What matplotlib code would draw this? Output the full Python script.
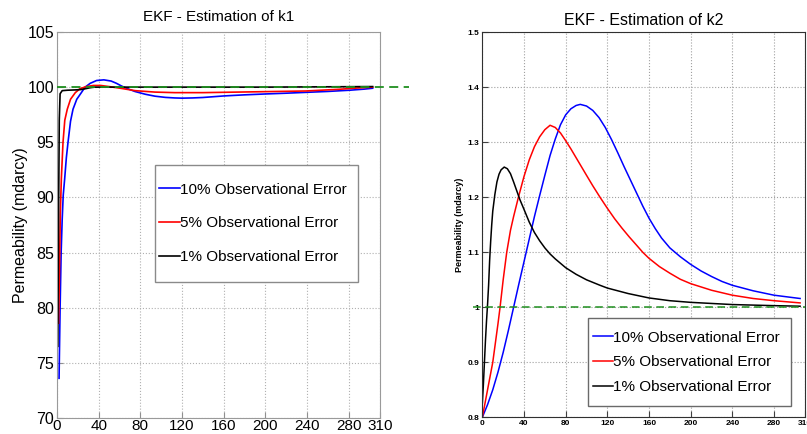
import matplotlib
matplotlib.use('Agg')
import matplotlib.pyplot as plt
from matplotlib.patches import Rectangle

plt.rcParams['font.family'] = ['Liberation Sans', 'DejaVu Sans']

# k1 estimates (left panel)
k1_blue_x = [2, 3, 4, 5, 6, 7.4, 9, 10.6, 13, 15.4, 19, 23.4, 27, 32, 38, 45, 52, 57, 62, 68, 75,
             85, 94, 104, 113, 120, 130, 140, 160, 180, 200, 220, 240, 260, 281, 295, 303]
k1_blue_y = [73.6, 80, 85, 88, 90.2, 91.7, 93.6, 95, 96.9, 98, 98.9, 99.5, 100.0, 100.35, 100.6,
             100.66, 100.55, 100.35, 100.1, 99.85, 99.6, 99.35, 99.18, 99.07, 99.02, 99.0, 99.02,
             99.06, 99.2, 99.3, 99.38, 99.45, 99.53, 99.61, 99.72, 99.82, 99.9]
k1_red_x = [1.6, 2.5, 3.2, 4.2, 5.8, 7.5, 9.9, 13, 17.6, 22, 28, 35, 42, 50, 62, 75, 94, 113,
            140, 180, 239, 270, 290, 303]
k1_red_y = [78.6, 84, 88.5, 91.7, 95, 97, 98, 98.9, 99.5, 99.85, 100.05, 100.15, 100.15, 100.05,
            99.88, 99.68, 99.55, 99.5, 99.5, 99.56, 99.65, 99.8, 99.93, 100.0]
k1_black_x = [0.8, 1.5, 2.2, 3, 5, 10, 18, 23, 28, 32, 36, 50, 100, 200, 303]
k1_black_y = [76.5, 88, 97, 99.4, 99.68, 99.72, 99.75, 99.78, 99.87, 99.95, 100.0, 100.0, 100.0,
              100.0, 100.05]
k1_true = 100

# k2 estimates (right panel)
k2_blue_x = [0, 5, 10, 15, 20, 25, 30, 35, 40, 45, 50, 55, 60, 65, 70, 75, 80, 85, 90, 94, 100,
             106, 112, 118, 124, 130, 136, 142, 148, 154, 160, 166, 172, 180, 190, 200, 210, 220,
             230, 240, 260, 280, 305]
k2_blue_y = [0.8, 0.823, 0.85, 0.882, 0.918, 0.958, 1.0, 1.042, 1.083, 1.124, 1.165, 1.203, 1.24,
             1.276, 1.306, 1.332, 1.35, 1.361, 1.367, 1.369, 1.366, 1.358, 1.345, 1.327, 1.305,
             1.281, 1.256, 1.232, 1.208, 1.184, 1.162, 1.143, 1.126, 1.108, 1.092, 1.078, 1.066,
             1.056, 1.047, 1.04, 1.03, 1.022, 1.016]
k2_red_x = [0, 5, 10, 15, 17, 20, 23.4, 27, 30, 34.6, 40, 45, 50, 55, 60, 65, 70, 75, 80, 85, 90,
            95, 100, 106, 113, 120, 127, 134, 141, 148, 154, 160, 170, 180, 190, 200, 220, 240, 260,
            280, 305]
k2_red_y = [0.8, 0.85, 0.9, 0.97, 1.0, 1.05, 1.1, 1.14, 1.165, 1.2, 1.238, 1.268, 1.292, 1.31,
            1.323, 1.331, 1.327, 1.317, 1.303, 1.288, 1.272, 1.256, 1.24, 1.221, 1.2, 1.18, 1.161,
            1.144, 1.128, 1.113, 1.1, 1.089, 1.074, 1.062, 1.051, 1.043, 1.031, 1.022, 1.016, 1.012,
            1.008]
k2_black_x = [0, 1, 2, 3, 4, 5, 6, 7, 8, 9, 10, 12, 14, 16, 18, 21, 24, 27, 30, 33, 36, 40, 45, 50,
              55, 60, 65, 70, 75, 80, 90, 100, 113, 120, 140, 160, 180, 200, 240, 280, 305]
k2_black_y = [0.825, 0.86, 0.9, 0.94, 0.975, 1.005, 1.04, 1.085, 1.12, 1.15, 1.175, 1.205, 1.228,
              1.242, 1.25, 1.255, 1.252, 1.243, 1.228, 1.212, 1.196, 1.178, 1.155, 1.136, 1.121,
              1.108, 1.097, 1.088, 1.08, 1.072, 1.06, 1.05, 1.04, 1.035, 1.025, 1.017, 1.012, 1.009,
              1.005, 1.003, 1.002]
k2_true = 1

labels = ['10% Observational Error', '5% Observational Error', '1% Observational Error']
xticks = [0, 40, 80, 120, 160, 200, 240, 280, 310]

fig = plt.figure(figsize=(8.07, 4.34), dpi=100)
ax1 = fig.add_axes([0.0706, 0.0369, 0.4002, 0.8894])
ax2 = fig.add_axes([0.5977, 0.0385, 0.4002, 0.887])

# ---- left panel ----
ax1.plot(k1_blue_x, k1_blue_y, color='#0000ff', lw=1.2, label=labels[0])
ax1.plot(k1_red_x, k1_red_y, color='#ff0000', lw=1.2, label=labels[1])
ax1.plot(k1_black_x, k1_black_y, color='black', lw=1.2, label=labels[2])
ax1.plot([0, 338], [k1_true, k1_true], color='#1f8f1f', lw=1.3, ls=(0, (5, 3)), clip_on=False, zorder=6)
ax1.set_xlim(0, 310)
ax1.set_ylim(70, 105)
ax1.set_xticks(xticks)
ax1.set_yticks(range(70, 106, 5))
ax1.grid(True, ls=':', color='#b0b0b0', lw=0.8)
ax1.tick_params(direction='in', length=4, labelsize=11.5, pad=2, color='#909090')
ax1.tick_params(axis='x', labelsize=11, pad=1)
for s in ax1.spines.values():
    s.set_color('#9a9a9a')
ax1.set_ylabel('Permeability (mdarcy)', fontsize=11.5, labelpad=0)
ax1.set_title('EKF - Estimation of k1', fontsize=11, pad=8)
ax1.add_patch(Rectangle((0.303, 0.352), 0.629, 0.303, transform=ax1.transAxes,
                        facecolor='white', edgecolor='#8a8a8a', lw=1, zorder=7))
ax1.legend(loc='center left', bbox_to_anchor=(0.316, 0.504), frameon=False, fontsize=11,
           borderpad=0, borderaxespad=0, handlelength=1.35, handletextpad=0.05,
           labelspacing=1.3).set_zorder(8)

# ---- right panel ----
ax2.plot(k2_blue_x, k2_blue_y, color='#0000ff', lw=1.1, label=labels[0])
ax2.plot(k2_red_x, k2_red_y, color='#ff0000', lw=1.1, label=labels[1])
ax2.plot(k2_black_x, k2_black_y, color='black', lw=1.1, label=labels[2])
ax2.plot([-9, 310], [k2_true, k2_true], color='#1f8f1f', lw=1.1, ls=(0, (5, 3)), clip_on=False, zorder=6)
ax2.set_xlim(0, 310)
ax2.set_ylim(0.8, 1.5)
ax2.set_xticks(xticks)
ax2.set_yticks([0.8, 0.9, 1.0, 1.1, 1.2, 1.3, 1.4, 1.5])
ax2.set_yticklabels(['0.8', '0.9', '1', '1.1', '1.2', '1.3', '1.4', '1.5'])
ax2.grid(True, ls=':', color='#a0a0a0', lw=0.8)
ax2.tick_params(direction='in', length=4, labelsize=6, pad=2, color='#404040')
for t in ax2.get_xticklabels() + ax2.get_yticklabels():
    t.set_fontweight('bold')
for s in ax2.spines.values():
    s.set_color('#303030')
ax2.set_ylabel('Permeability (mdarcy)', fontsize=6.5, fontweight='bold', labelpad=3)
ax2.set_title('EKF - Estimation of k2', fontsize=11.5, pad=5)
ax2.add_patch(Rectangle((0.327, 0.029), 0.629, 0.229, transform=ax2.transAxes,
                        facecolor='white', edgecolor='#6a6a6a', lw=1, zorder=7))
ax2.legend(loc='center left', bbox_to_anchor=(0.342, 0.143), frameon=False, fontsize=11,
           borderpad=0, borderaxespad=0, handlelength=1.3, handletextpad=0.05,
           labelspacing=0.7).set_zorder(8)

fig.savefig('out.png', dpi=100)
